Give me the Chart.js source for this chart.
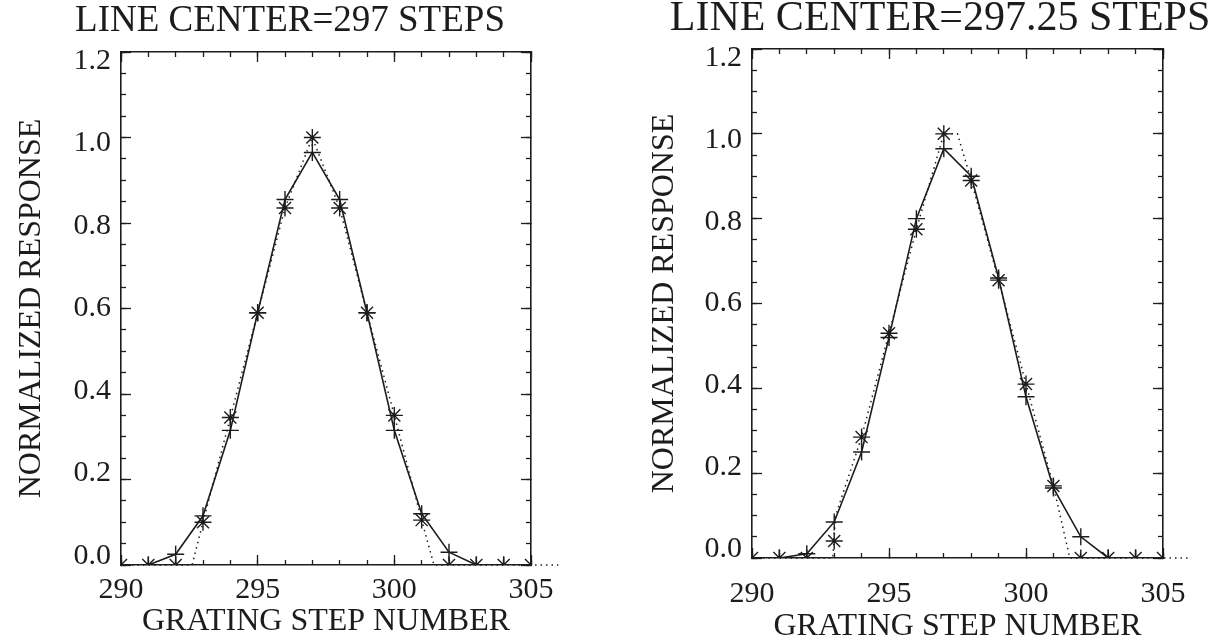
<!DOCTYPE html>
<html>
<head>
<meta charset="utf-8">
<script src="https://cdn.jsdelivr.net/npm/chart.js@4.4.1/dist/chart.umd.min.js"></script>
<style>
  body { margin: 0; background: #fff; }
  #wrap { position: relative; width: 1228px; height: 644px; background: #fff; }
  canvas { position: absolute; top: 0; }
</style>
</head>
<body>
<div id="wrap">
  <canvas id="left" width="614" height="644" style="left:0"></canvas>
  <canvas id="right" width="614" height="644" style="left:614px"></canvas>
</div>
<script>
// ---------- DATOS ----------
const plusSteps = [291, 292, 293, 294, 295, 296, 297, 298, 299, 300, 301, 302, 303, 304];
const starSteps = [290, 291, 292, 293, 294, 295, 296, 297, 298, 299, 300, 301, 302, 303, 304, 305];

// panel izquierdo (centro 297)
const plusLeft = [0, 0.025, 0.115, 0.315, 0.59, 0.855, 0.965, 0.855, 0.59, 0.315, 0.12, 0.03, 0, 0];
const starLeft = [0, 0, 0, 0.10, 0.345, 0.59, 0.835, 1.0, 0.835, 0.59, 0.35, 0.105, 0, 0, 0, 0];
const modelStepsLeft = [290, 292.6, 293, 294, 295, 296, 297, 298, 299, 300, 301, 301.45, 306];
const modelLeft = [0, 0, 0.10, 0.345, 0.59, 0.835, 1.0, 0.835, 0.59, 0.35, 0.105, 0, 0];

// panel derecho (centro 297.25)
const plusRight = [0, 0.01, 0.085, 0.25, 0.52, 0.80, 0.965, 0.90, 0.66, 0.38, 0.165, 0.05, 0, 0];
const starRight = [0, 0, 0, 0.04, 0.285, 0.53, 0.775, 1.0, 0.89, 0.655, 0.41, 0.17, 0, 0, 0, 0];
const modelStepsRight = [290, 292.95, 293.05, 294, 295, 296, 297, 297.5, 298, 299, 300, 301, 301.6, 306];
const modelRight = [0, 0, 0.1, 0.285, 0.53, 0.775, 1.0, 1.0, 0.89, 0.655, 0.41, 0.17, 0, 0];

const xTickLabels = [290, 295, 300, 305];
const yTickLabels = ['0.0', '0.2', '0.4', '0.6', '0.8', '1.0', '1.2'];
const titles = ['LINE CENTER=297 STEPS', 'LINE CENTER=297.25 STEPS'];
const xTitle = 'GRATING STEP NUMBER';
const yTitle = 'NORMALIZED RESPONSE';

const INK = '#1c1c1c';
const SERIF = "'Liberation Serif', 'DejaVu Serif', serif";

function points(xs, ys) {
  return xs.map((x, i) => ({ x: x, y: ys[i] }));
}

// eje con marcas hacia dentro (estilo IDL)
function tickAxis(axis, position, step, len, size, extra) {
  const horiz = axis === 'x';
  return Object.assign({
    type: 'linear',
    axis: axis,
    position: position,
    min: horiz ? 290 : 0,
    max: horiz ? 305 : 1.2,
    grid: { drawOnChartArea: false, tickLength: len, tickColor: INK, tickWidth: 1.3 },
    border: { display: false },
    ticks: { display: false, stepSize: step, autoSkip: false, maxRotation: 0 },
    afterFit: s => { if (horiz) s.height = size; else s.width = size; }
  }, extra || {});
}

function makePanel(id, p) {
  const ctx = document.getElementById(id).getContext('2d');
  new Chart(ctx, {
    type: 'scatter',
    data: {
      datasets: [
        {
          data: points(plusSteps, p.plus),
          xAxisID: 'x', yAxisID: 'y',
          showLine: true,
          borderColor: INK,
          borderWidth: 1.6,
          pointStyle: 'cross',
          pointRadius: 8.5,
          pointBorderWidth: 1.4,
          pointBorderColor: INK
        },
        {
          data: points(p.modelSteps, p.model),
          xAxisID: 'x', yAxisID: 'y',
          showLine: true,
          borderColor: INK,
          borderWidth: 1.5,
          borderDash: [1.5, 4],
          pointRadius: 0,
          clip: { left: 0, top: 0, right: 40, bottom: 3 }
        },
        {
          data: points(starSteps, p.star),
          xAxisID: 'x', yAxisID: 'y',
          showLine: false,
          pointStyle: 'star',
          pointRadius: 8.5,
          pointBorderWidth: 1.4,
          pointBorderColor: INK
        }
      ]
    },
    options: {
      responsive: false,
      animation: false,
      layout: { padding: { left: p.padL, right: p.padR, top: 0, bottom: 0 } },
      plugins: {
        legend: { display: false },
        tooltip: { enabled: false },
        title: {
          display: true,
          text: p.title,
          color: INK,
          font: { family: SERIF, size: p.titleSize, weight: 'normal', lineHeight: 1 },
          padding: { top: p.titleTop, bottom: p.titleBottom }
        }
      },
      scales: {
        x: tickAxis('x', 'bottom', 5, -10, p.xH, {
          border: { display: true, color: INK, width: 1.6 },
          ticks: {
            display: true, stepSize: 5, autoSkip: false, maxRotation: 0,
            padding: p.xPad, color: INK,
            font: { family: SERIF, size: 30 },
            callback: v => xTickLabels.includes(v) ? String(v) : ''
          },
          title: {
            display: true, text: xTitle, color: INK,
            font: { family: SERIF, size: 32, lineHeight: 1 },
            padding: { top: 0, bottom: p.xTitlePad }
          }
        }),
        xm: tickAxis('x', 'bottom', 1, -5, 0, { weight: -1 }),
        xt: tickAxis('x', 'top', 5, -10, 0, { border: { display: true, color: INK, width: 1.6 } }),
        xtm: tickAxis('x', 'top', 1, -5, 0, { weight: -1 }),
        y: tickAxis('y', 'left', 0.2, -10, 0, {
          weight: -1,
          border: { display: true, color: INK, width: 1.6 }
        }),
        ym: tickAxis('y', 'left', 0.05, -5, 0, { weight: -2 }),
        // etiquetas del eje Y: un poco recogidas hacia el centro, como en el original
        yl: tickAxis('y', 'left', 0.2, 0, p.yW, {
          min: -0.022, max: 1.222,
          grid: { drawOnChartArea: false, drawTicks: false },
          ticks: {
            display: true, stepSize: 0.2, autoSkip: false, includeBounds: false,
            padding: p.yPad, color: INK,
            font: { family: SERIF, size: 30 },
            callback: v => yTickLabels[Math.round(v / 0.2)]
          },
          title: {
            display: true, text: yTitle, color: INK,
            font: { family: SERIF, size: 32, lineHeight: 1 },
            padding: { top: p.yTitlePad, bottom: 0 }
          }
        }),
        yr: tickAxis('y', 'right', 0.2, -10, p.yrW, { border: { display: true, color: INK, width: 1.6 } }),
        yrm: tickAxis('y', 'right', 0.05, -5, 0, { weight: -1 })
      }
    }
  });
}

makePanel('left', {
  plus: plusLeft, star: starLeft, modelSteps: modelStepsLeft, model: modelLeft,
  title: titles[0], titleSize: 37, titleTop: 3, titleBottom: 12,
  padL: 0, padR: 34, yW: 121, yrW: 49, xH: 79,
  xPad: 17, xTitlePad: 6, yPad: 10, yTitlePad: 16
});

makePanel('right', {
  plus: plusRight, star: starRight, modelSteps: modelStepsRight, model: modelRight,
  title: titles[1], titleSize: 42, titleTop: -2, titleBottom: 9,
  padL: 38, padR: 0, yW: 100, yrW: 65, xH: 86,
  xPad: 28, xTitlePad: 1, yPad: 10, yTitlePad: -3
});
</script>
</body>
</html>
